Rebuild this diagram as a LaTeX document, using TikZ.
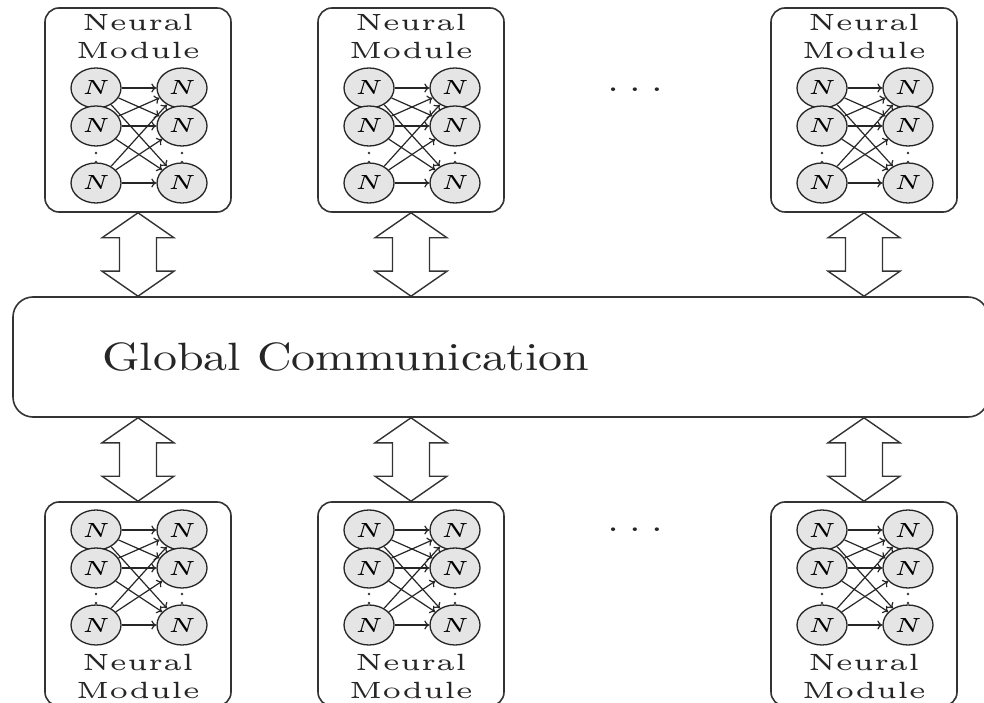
\documentclass[tikz,border=0pt]{standalone}
\usetikzlibrary{shapes.geometric,calc,arrows.meta}

% double-headed hollow arrow between two points on one vertical line
\newcommand\twowayarrow[2]{%
  \draw[bigarrow] let \p1=(#1), \p2=(#2) in
    (\x1,\y1) -- (\x1+36pt,\y1-25pt) -- (\x1+18.5pt,\y1-25pt)
    -- (\x1+18.5pt,\y2+25pt) -- (\x1+36pt,\y2+25pt) -- (\x1,\y2)
    -- (\x1-36pt,\y2+25pt) -- (\x1-18.5pt,\y2+25pt)
    -- (\x1-18.5pt,\y1-25pt) -- (\x1-36pt,\y1-25pt) -- cycle;}

\newcommand\neuronlabel{\scalebox{4.8}[4.1]{\tiny$N$}}
\newcommand\modulelabel{\scalebox{5.6}[4.7]{\tiny\begin{tabular}{@{}c@{}}Neural\\Module\end{tabular}}}
\newcommand\moredots{\scalebox{4}[3.4]{.\kern2.7pt.\kern2.7pt.}}

\tikzset{
  modbox/.style={draw=black!80, line width=1.6pt, rounded corners=14pt,
    minimum width=186pt, minimum height=204pt, inner sep=0pt},
  globalbox/.style={draw=black!80, line width=1.6pt, rounded corners=20pt,
    minimum width=975pt, minimum height=120pt, inner sep=0pt},
  neuron/.style={ellipse, draw=black!85, line width=1.3pt, fill=black!10,
    minimum width=50pt, minimum height=40pt, inner sep=0pt},
  link/.style={-{To[length=5pt,width=9pt]}, line width=1.2pt, draw=black!85},
  bigarrow/.style={draw=black!80, line width=1.4pt, fill=white, line join=miter},
  txt/.style={inner sep=0pt, text=black!85},
}

\begin{document}
\begin{tikzpicture}[x=1pt,y=1pt]
\useasboundingbox (0,0) rectangle (984,702);
\clip (0,0) rectangle (984,702);

% shared communication bus
\node[globalbox] (g) at (500.5,345) {};
\node[txt, anchor=west] (gtxt) at (102,345) {\scalebox{4.8}[3.95]{Global Communication}};

% modules above and below the bus
\foreach \m/\cx in {1/138, 2/411, 3/864} {
  \node[modbox] (t\m) at (\cx,592) {};
  \node[modbox] (b\m) at (\cx,98) {};
  \node[txt] (t\m txt) at (\cx,663) {\modulelabel};
  \node[txt] (b\m txt) at (\cx,23) {\modulelabel};
  \foreach \side/\dx in {L/-42, R/44} {
    % vertical dots hinting at further neurons
    \foreach \yy in {558,549,540} \fill[black!80] (\cx+\dx,\yy) circle (1.4pt);
    \foreach \yy in {153,144,135} \fill[black!80] (\cx+\dx,\yy-36) circle (1.4pt);
    \foreach \r/\y in {1/614, 2/576, 3/519}
      \node[neuron] (t\m\side\r) at (\cx+\dx,\y) {\neuronlabel};
    \foreach \r/\y in {1/172, 2/134, 3/77}
      \node[neuron] (b\m\side\r) at (\cx+\dx,\y) {\neuronlabel};
  }
  \foreach \i in {1,2,3} {
    \foreach \j in {1,2,3} {
      \draw[link] (t\m L\i) -- (t\m R\j);
      \draw[link] (b\m L\i) -- (b\m R\j);
    }
  }
  \twowayarrow{t\m.south}{g.north -| t\m.south}
  \twowayarrow{g.south -| b\m.north}{b\m.north}
}

% further modules omitted
\node[txt] (tdots) at (635,612) {\moredots};
\node[txt] (bdots) at (635,172) {\moredots};
\end{tikzpicture}
\end{document}
